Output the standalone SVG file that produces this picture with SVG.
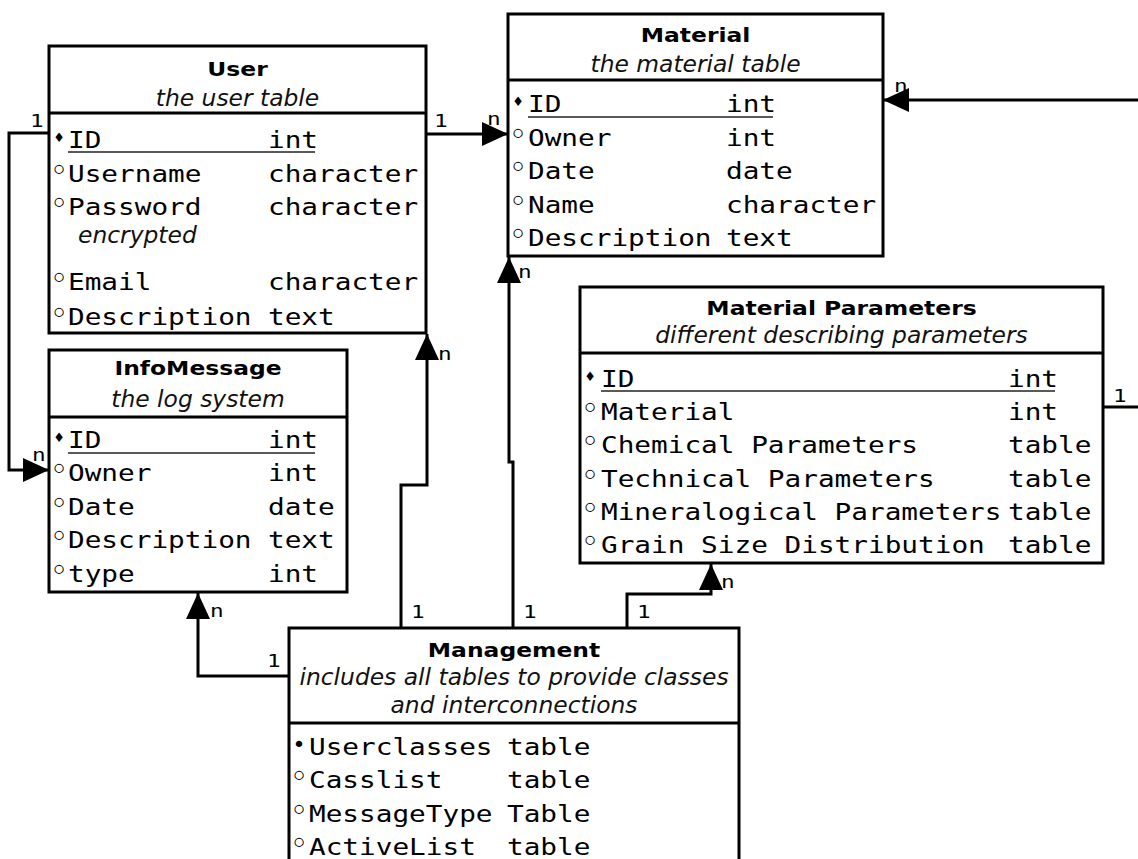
<svg xmlns="http://www.w3.org/2000/svg" width="1138" height="859" viewBox="0 0 1138 859">
  <style>
    .box{fill:#fff;stroke:#000;stroke-width:3}
    .div{stroke:#000;stroke-width:3}
    .ttl{font-family:"DejaVu Sans",sans-serif;font-weight:bold;font-size:18.6px;text-anchor:middle;fill:#000}
    .sub{font-family:"DejaVu Sans",sans-serif;font-style:italic;font-size:22.5px;text-anchor:middle;fill:#111}
    .enc{font-family:"DejaVu Sans",sans-serif;font-style:italic;font-size:22.5px;fill:#111}
    .m{font-family:"DejaVu Sans Mono",monospace;font-size:23.5px;fill:#000}
    .lbl{font-family:"DejaVu Sans Mono",monospace;font-size:18px;fill:#000}
    .ul{stroke:#222;stroke-width:1.6}
    .b{font-family:"DejaVu Sans",sans-serif;font-weight:bold;font-size:26px;text-anchor:middle;fill:#000}
    .f{font-family:"DejaVu Sans",sans-serif;font-size:22px;text-anchor:middle;fill:#000}
    .d{font-family:"DejaVu Sans",sans-serif;font-size:13px;text-anchor:middle;fill:#000}
    .conn{fill:none;stroke:#000;stroke-width:3}
  </style>
  <defs>
    <marker id="arr" markerUnits="userSpaceOnUse" markerWidth="26" markerHeight="24" viewBox="0 0 26 24" refX="26" refY="12" orient="auto">
      <path d="M0,0 L26,12 L0,24 z" fill="#000"/>
    </marker>
  </defs>
  <rect width="1138" height="859" fill="#fff"/>

  <!-- relations -->
  <g id="connectors">
    <path class="conn" d="M48,133 H9 V470 H49" marker-end="url(#arr)"/>
    <path class="conn" d="M426,134 H508" marker-end="url(#arr)"/>
    <path class="conn" d="M1103,407 H1150 V100 H883" marker-end="url(#arr)"/>
    <path class="conn" d="M401,629 V485 H427 V334" marker-end="url(#arr)"/>
    <path class="conn" d="M513,629 V462 H509 V257" marker-end="url(#arr)"/>
    <path class="conn" d="M627,629 V594 H711 V564" marker-end="url(#arr)"/>
    <path class="conn" d="M289,676 H198 V593" marker-end="url(#arr)"/>
    <text class="lbl" transform="matrix(1.26 0 0 1 30 127)">1</text>
    <text class="lbl" transform="matrix(1.26 0 0 1 32 461)">n</text>
    <text class="lbl" transform="matrix(1.26 0 0 1 434 127)">1</text>
    <text class="lbl" transform="matrix(1.26 0 0 1 487 125)">n</text>
    <text class="lbl" transform="matrix(1.26 0 0 1 894 92)">n</text>
    <text class="lbl" transform="matrix(1.26 0 0 1 1113 402)">1</text>
    <text class="lbl" transform="matrix(1.26 0 0 1 438 360)">n</text>
    <text class="lbl" transform="matrix(1.26 0 0 1 411 618)">1</text>
    <text class="lbl" transform="matrix(1.26 0 0 1 518 278)">n</text>
    <text class="lbl" transform="matrix(1.26 0 0 1 523 618)">1</text>
    <text class="lbl" transform="matrix(1.26 0 0 1 721 588)">n</text>
    <text class="lbl" transform="matrix(1.26 0 0 1 637 618)">1</text>
    <text class="lbl" transform="matrix(1.26 0 0 1 210 617)">n</text>
    <text class="lbl" transform="matrix(1.26 0 0 1 267 667)">1</text>
  </g>

  <!-- User -->
  <g id="user">
    <rect class="box" x="49" y="46" width="377" height="287"/>
    <line class="div" x1="49" y1="113" x2="426" y2="113"/>
    <text class="ttl" transform="matrix(1.26 0 0 1 237.5 76)">User</text>
    <text class="sub" transform="matrix(1.04 0 0 1 237.5 106)">the user table</text>
    <text class="d" x="59" y="142">♦</text>
    <text class="m" transform="matrix(1.18 0 0 1 68 148)">ID</text>
    <text class="m" transform="matrix(1.18 0 0 1 268 148)">int</text>
    <line class="ul" x1="68" y1="152" x2="315" y2="152"/>
    <text class="b" x="59" y="179">◦</text>
    <text class="m" transform="matrix(1.18 0 0 1 68 182)">Username</text>
    <text class="m" transform="matrix(1.18 0 0 1 268 182)">character</text>
    <text class="b" x="59" y="212">◦</text>
    <text class="m" transform="matrix(1.18 0 0 1 68 215)">Password</text>
    <text class="m" transform="matrix(1.18 0 0 1 268 215)">character</text>
    <text class="enc" transform="matrix(1.04 0 0 1 78 243)">encrypted</text>
    <text class="b" x="59" y="287">◦</text>
    <text class="m" transform="matrix(1.18 0 0 1 68 290)">Email</text>
    <text class="m" transform="matrix(1.18 0 0 1 268 290)">character</text>
    <text class="b" x="59" y="322">◦</text>
    <text class="m" transform="matrix(1.18 0 0 1 68 325)">Description</text>
    <text class="m" transform="matrix(1.18 0 0 1 268 325)">text</text>
  </g>

  <!-- InfoMessage -->
  <g id="infomessage">
    <rect class="box" x="49" y="350" width="298" height="242"/>
    <line class="div" x1="49" y1="417" x2="347" y2="417"/>
    <text class="ttl" transform="matrix(1.26 0 0 1 198 375)">InfoMessage</text>
    <text class="sub" transform="matrix(1.04 0 0 1 198 407)">the log system</text>
    <text class="d" x="59" y="442">♦</text>
    <text class="m" transform="matrix(1.18 0 0 1 68 448)">ID</text>
    <text class="m" transform="matrix(1.18 0 0 1 268 448)">int</text>
    <line class="ul" x1="68" y1="453" x2="315" y2="453"/>
    <text class="b" x="59" y="478">◦</text>
    <text class="m" transform="matrix(1.18 0 0 1 68 481)">Owner</text>
    <text class="m" transform="matrix(1.18 0 0 1 268 481)">int</text>
    <text class="b" x="59" y="512">◦</text>
    <text class="m" transform="matrix(1.18 0 0 1 68 515)">Date</text>
    <text class="m" transform="matrix(1.18 0 0 1 268 515)">date</text>
    <text class="b" x="59" y="545">◦</text>
    <text class="m" transform="matrix(1.18 0 0 1 68 548)">Description</text>
    <text class="m" transform="matrix(1.18 0 0 1 268 548)">text</text>
    <text class="b" x="59" y="579">◦</text>
    <text class="m" transform="matrix(1.18 0 0 1 68 582)">type</text>
    <text class="m" transform="matrix(1.18 0 0 1 268 582)">int</text>
  </g>

  <!-- Material -->
  <g id="material">
    <rect class="box" x="508" y="14" width="375" height="242"/>
    <line class="div" x1="508" y1="80" x2="883" y2="80"/>
    <text class="ttl" transform="matrix(1.26 0 0 1 695.5 42)">Material</text>
    <text class="sub" transform="matrix(1.04 0 0 1 695.5 72)">the material table</text>
    <text class="d" x="518" y="106">♦</text>
    <text class="m" transform="matrix(1.18 0 0 1 528 112)">ID</text>
    <text class="m" transform="matrix(1.18 0 0 1 726 112)">int</text>
    <line class="ul" x1="528" y1="117" x2="773" y2="117"/>
    <text class="b" x="518" y="143">◦</text>
    <text class="m" transform="matrix(1.18 0 0 1 528 146)">Owner</text>
    <text class="m" transform="matrix(1.18 0 0 1 726 146)">int</text>
    <text class="b" x="518" y="176">◦</text>
    <text class="m" transform="matrix(1.18 0 0 1 528 179)">Date</text>
    <text class="m" transform="matrix(1.18 0 0 1 726 179)">date</text>
    <text class="b" x="518" y="210">◦</text>
    <text class="m" transform="matrix(1.18 0 0 1 528 213)">Name</text>
    <text class="m" transform="matrix(1.18 0 0 1 726 213)">character</text>
    <text class="b" x="518" y="243">◦</text>
    <text class="m" transform="matrix(1.18 0 0 1 528 246)">Description</text>
    <text class="m" transform="matrix(1.18 0 0 1 726 246)">text</text>
  </g>

  <!-- Material Parameters -->
  <g id="material-parameters">
    <rect class="box" x="580" y="287" width="523" height="276"/>
    <line class="div" x1="580" y1="353" x2="1103" y2="353"/>
    <text class="ttl" transform="matrix(1.26 0 0 1 841.5 315)">Material Parameters</text>
    <text class="sub" transform="matrix(1.04 0 0 1 841.5 343)">different describing parameters</text>
    <text class="d" x="590" y="381">♦</text>
    <text class="m" transform="matrix(1.18 0 0 1 601 387)">ID</text>
    <text class="m" transform="matrix(1.18 0 0 1 1008 387)">int</text>
    <line class="ul" x1="601" y1="391" x2="1055" y2="391"/>
    <text class="b" x="590" y="417">◦</text>
    <text class="m" transform="matrix(1.18 0 0 1 601 420)">Material</text>
    <text class="m" transform="matrix(1.18 0 0 1 1008 420)">int</text>
    <text class="b" x="590" y="450">◦</text>
    <text class="m" transform="matrix(1.18 0 0 1 601 453)">Chemical Parameters</text>
    <text class="m" transform="matrix(1.18 0 0 1 1008 453)">table</text>
    <text class="b" x="590" y="484">◦</text>
    <text class="m" transform="matrix(1.18 0 0 1 601 487)">Technical Parameters</text>
    <text class="m" transform="matrix(1.18 0 0 1 1008 487)">table</text>
    <text class="b" x="590" y="517">◦</text>
    <text class="m" transform="matrix(1.18 0 0 1 601 520)">Mineralogical Parameters</text>
    <text class="m" transform="matrix(1.18 0 0 1 1008 520)">table</text>
    <text class="b" x="590" y="550">◦</text>
    <text class="m" transform="matrix(1.18 0 0 1 601 553)">Grain Size Distribution</text>
    <text class="m" transform="matrix(1.18 0 0 1 1008 553)">table</text>
  </g>

  <!-- Management -->
  <g id="management">
    <rect class="box" x="289" y="628" width="450" height="250"/>
    <line class="div" x1="289" y1="723" x2="739" y2="723"/>
    <text class="ttl" transform="matrix(1.26 0 0 1 514 657)">Management</text>
    <text class="sub" transform="matrix(1.04 0 0 1 514 685)">includes all tables to provide classes</text>
    <text class="sub" transform="matrix(1.04 0 0 1 514 713)">and interconnections</text>
    <text class="f" x="299" y="752">•</text>
    <text class="m" transform="matrix(1.18 0 0 1 309 755)">Userclasses</text>
    <text class="m" transform="matrix(1.18 0 0 1 507 755)">table</text>
    <text class="b" x="299" y="785">◦</text>
    <text class="m" transform="matrix(1.18 0 0 1 309 788)">Casslist</text>
    <text class="m" transform="matrix(1.18 0 0 1 507 788)">table</text>
    <text class="b" x="299" y="819">◦</text>
    <text class="m" transform="matrix(1.18 0 0 1 309 822)">MessageType</text>
    <text class="m" transform="matrix(1.18 0 0 1 507 822)">Table</text>
    <text class="b" x="299" y="852">◦</text>
    <text class="m" transform="matrix(1.18 0 0 1 309 855)">ActiveList</text>
    <text class="m" transform="matrix(1.18 0 0 1 507 855)">table</text>
  </g>
</svg>
